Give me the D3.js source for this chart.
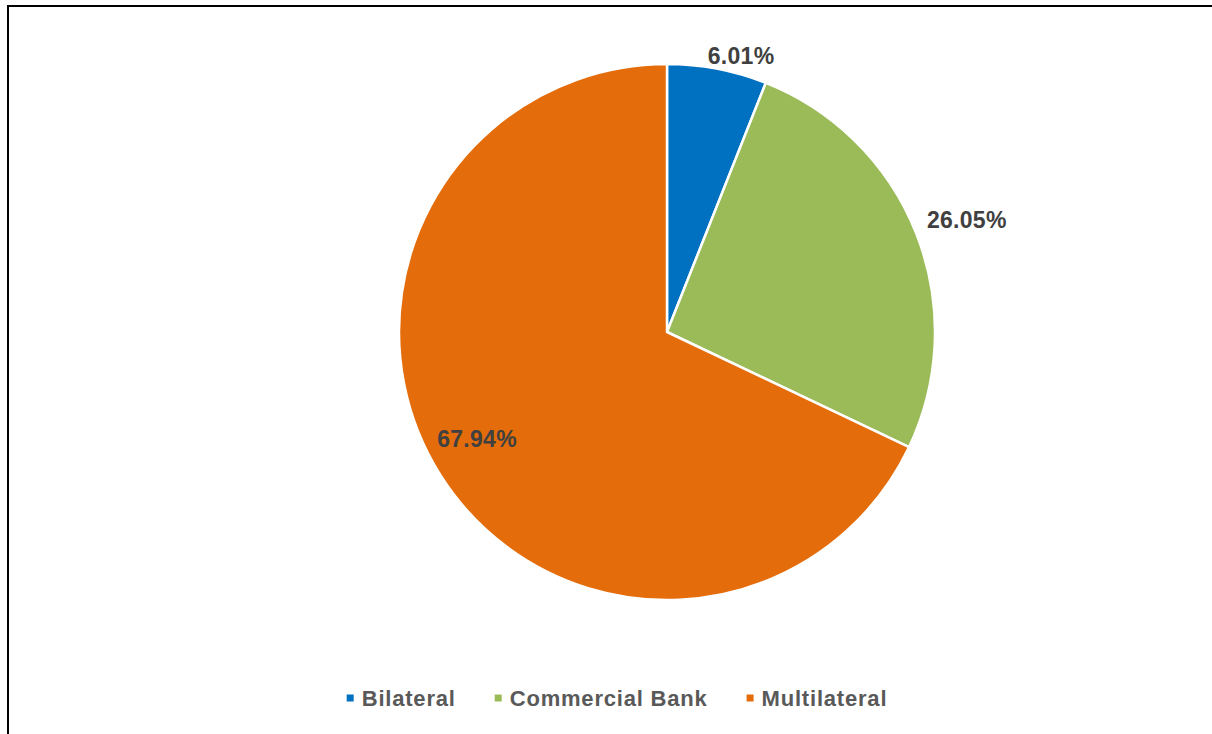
<!DOCTYPE html>
<html>
<head>
<meta charset="utf-8">
<script src="https://cdn.jsdelivr.net/npm/d3@7"></script>
<style>
  html, body { margin: 0; padding: 0; background: #ffffff; }
  svg { display: block; }
</style>
</head>
<body>
<svg id="chart" width="1212" height="734"></svg>
<script>
// Debt composition by creditor type (share of total, %)
const categories = ["Bilateral", "Commercial Bank", "Multilateral"];
const shares = [6.01, 26.05, 67.94];
const sliceColors = ["#0070C0", "#9BBB59", "#E46C0A"];

// Label placement: radius and angular nudge (degrees) from each slice's mid-angle
const labelPlacement = [
  { r: 286, nudge: 4.2 },
  { r: 320, nudge: 1.0 },
  { r: 218, nudge: 2.9 }
];

const W = 1212, H = 734;
const cx = 667, cy = 332, radius = 268;
const FONT = "'Liberation Sans', Arial, Helvetica, sans-serif";

const svg = d3.select("#chart");

// Chart frame (its right and bottom edges fall outside the view)
svg.append("rect")
  .attr("x", 8).attr("y", 6)
  .attr("width", 1400).attr("height", 900)
  .attr("fill", "#ffffff")
  .attr("stroke", "#000000")
  .attr("stroke-width", 2);

const data = categories.map((c, i) => ({ name: c, value: shares[i], color: sliceColors[i] }));

const pie = d3.pie().value(d => d.value).sort(null);
const arcs = pie(data);
const arc = d3.arc().innerRadius(0).outerRadius(radius);

const g = svg.append("g").attr("transform", `translate(${cx},${cy})`);

g.selectAll("path.slice")
  .data(arcs)
  .join("path")
  .attr("class", "slice")
  .attr("d", arc)
  .attr("fill", d => d.data.color)
  .attr("stroke", "#ffffff")
  .attr("stroke-width", 2.5)
  .attr("stroke-linejoin", "round");

// Percentage labels
g.selectAll("text.pct")
  .data(arcs)
  .join("text")
  .attr("class", "pct")
  .each(function (d, i) {
    const p = labelPlacement[i];
    const a = (d.startAngle + d.endAngle) / 2 + p.nudge * Math.PI / 180;
    d3.select(this)
      .attr("x", p.r * Math.sin(a))
      .attr("y", -p.r * Math.cos(a));
  })
  .attr("text-anchor", "middle")
  .attr("dominant-baseline", "central")
  .attr("font-family", FONT)
  .attr("font-weight", "bold")
  .attr("font-size", 23)
  .attr("letter-spacing", 0.3)
  .attr("fill", "#404040")
  .text(d => d.data.value.toFixed(2) + "%");

// Legend, centred below the pie
const legend = svg.append("g").attr("class", "legend");
const markerSize = 7, markerGap = 8, itemGap = 39, legendY = 698;
const items = legend.selectAll("g.item")
  .data(data)
  .join("g")
  .attr("class", "item");

items.append("rect")
  .attr("width", markerSize).attr("height", markerSize)
  .attr("y", legendY - markerSize / 2)
  .attr("fill", d => d.color);

items.append("text")
  .attr("y", legendY)
  .attr("dominant-baseline", "central")
  .attr("font-family", FONT)
  .attr("font-weight", "bold")
  .attr("font-size", 22)
  .attr("letter-spacing", 0.8)
  .attr("fill", "#595959")
  .text(d => d.name);

let x = 0;
const positions = [];
items.each(function () {
  const t = d3.select(this).select("text").node().getComputedTextLength();
  positions.push(x);
  x += markerSize + markerGap + t + itemGap;
});
const total = x - itemGap;
const startX = 617 - total / 2;
items.each(function (d, i) {
  const sel = d3.select(this);
  sel.select("rect").attr("x", startX + positions[i]);
  sel.select("text").attr("x", startX + positions[i] + markerSize + markerGap);
});
</script>
</body>
</html>
